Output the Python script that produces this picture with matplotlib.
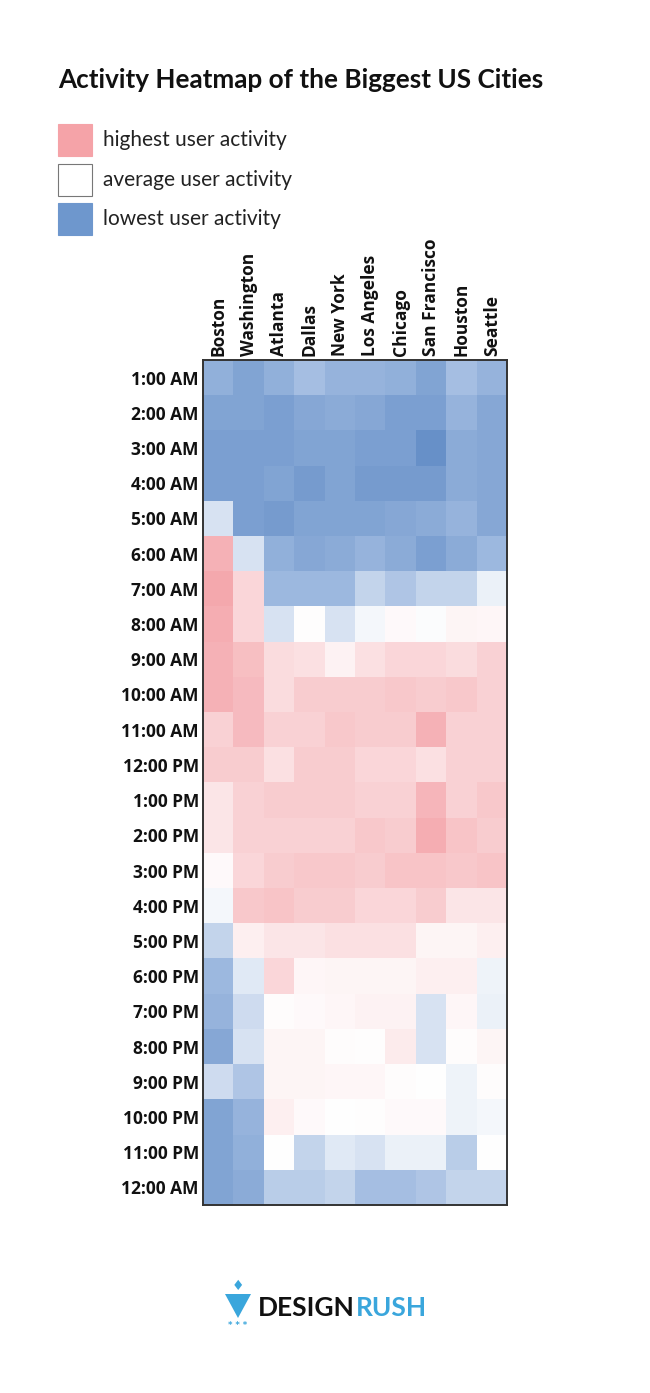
import numpy as np
import matplotlib.pyplot as plt
from matplotlib.colors import LinearSegmentedColormap
from matplotlib.patches import Rectangle, Polygon

# --- data (-1 = lowest, +1 = highest activity) ---
cities = ['Boston', 'Washington', 'Atlanta', 'Dallas', 'New York',
          'Los Angeles', 'Chicago', 'San Francisco', 'Houston', 'Seattle']
hours = ['1:00 AM', '2:00 AM', '3:00 AM', '4:00 AM', '5:00 AM', '6:00 AM',
         '7:00 AM', '8:00 AM', '9:00 AM', '10:00 AM', '11:00 AM', '12:00 PM',
         '1:00 PM', '2:00 PM', '3:00 PM', '4:00 PM', '5:00 PM', '6:00 PM',
         '7:00 PM', '8:00 PM', '9:00 PM', '10:00 PM', '11:00 PM', '12:00 AM']
activity = np.array([
    [-0.60, -0.75, -0.60, -0.45, -0.55, -0.55, -0.60, -0.75, -0.45, -0.55],
    [-0.75, -0.75, -0.80, -0.70, -0.65, -0.70, -0.80, -0.80, -0.55, -0.70],
    [-0.80, -0.80, -0.80, -0.75, -0.75, -0.80, -0.80, -1.00, -0.65, -0.70],
    [-0.80, -0.80, -0.75, -0.85, -0.75, -0.85, -0.85, -0.85, -0.65, -0.70],
    [-0.20, -0.80, -0.85, -0.75, -0.75, -0.75, -0.70, -0.65, -0.55, -0.70],
    [0.80, -0.20, -0.60, -0.70, -0.65, -0.55, -0.65, -0.80, -0.65, -0.50],
    [0.90, 0.40, -0.50, -0.50, -0.50, -0.30, -0.40, -0.30, -0.30, -0.10],
    [0.85, 0.40, -0.20, 0.02, -0.20, -0.05, 0.05, -0.02, 0.10, 0.08],
    [0.80, 0.65, 0.35, 0.30, 0.12, 0.30, 0.40, 0.40, 0.35, 0.45],
    [0.80, 0.70, 0.35, 0.50, 0.50, 0.50, 0.55, 0.50, 0.55, 0.45],
    [0.45, 0.70, 0.45, 0.45, 0.55, 0.50, 0.50, 0.80, 0.45, 0.45],
    [0.50, 0.50, 0.30, 0.50, 0.50, 0.40, 0.40, 0.30, 0.45, 0.45],
    [0.25, 0.45, 0.50, 0.50, 0.50, 0.45, 0.45, 0.75, 0.45, 0.55],
    [0.25, 0.45, 0.45, 0.45, 0.45, 0.55, 0.50, 0.85, 0.60, 0.50],
    [0.05, 0.40, 0.50, 0.55, 0.55, 0.50, 0.60, 0.60, 0.55, 0.60],
    [-0.05, 0.55, 0.60, 0.50, 0.50, 0.40, 0.40, 0.50, 0.25, 0.25],
    [-0.30, 0.15, 0.25, 0.25, 0.30, 0.30, 0.30, 0.10, 0.10, 0.15],
    [-0.50, -0.15, 0.40, 0.08, 0.10, 0.10, 0.10, 0.15, 0.15, -0.08],
    [-0.55, -0.25, 0.03, 0.05, 0.08, 0.12, 0.12, -0.20, 0.08, -0.10],
    [-0.70, -0.20, 0.10, 0.10, 0.03, 0.02, 0.20, -0.20, 0.03, 0.10],
    [-0.25, -0.40, 0.10, 0.10, 0.08, 0.08, 0.03, 0.00, -0.08, 0.03],
    [-0.75, -0.55, 0.15, 0.05, 0.00, 0.02, 0.05, 0.05, -0.08, -0.05],
    [-0.75, -0.60, 0.00, -0.30, -0.15, -0.20, -0.10, -0.10, -0.35, 0.00],
    [-0.75, -0.65, -0.35, -0.35, -0.30, -0.45, -0.45, -0.40, -0.30, -0.30],
])
legend_labels = ['highest user activity', 'average user activity', 'lowest user activity']

blue = '#6e97cd'
pink = '#f5a3a8'
cmap = LinearSegmentedColormap.from_list(
    'activity', [(0, '#6790c8'), (0.25, '#9cb8df'), (0.5, '#ffffff'),
                 (0.75, '#f9cdd0'), (1, '#f4a0a6')])

fig = plt.figure(figsize=(6.5, 13.93), dpi=100)
W, H = 650, 1393

def fx(x):
    return x / W

def fy(y):
    return 1 - y / H

# --- title ---
fig.text(fx(58), fy(80), 'Activity Heatmap of the Biggest US Cities',
         fontsize=18.8, fontweight='bold', family='Lato', va='center', ha='left',
         color='#111111')

# --- legend ---
legend_colors = [pink, '#ffffff', blue]
legend_y = [140, 180, 219]
for lab, col, y in zip(legend_labels, legend_colors, legend_y):
    fig.patches.append(Rectangle((fx(58), fy(y + 16)), 34 / W, 32 / H,
                                 transform=fig.transFigure, facecolor=col,
                                 edgecolor='#777777' if col == '#ffffff' else col,
                                 linewidth=0.8))
    fig.text(fx(103), fy(y), lab, fontsize=15, family='Lato', va='center',
             ha='left', color='#222222')

# --- heatmap ---
ax = fig.add_axes([fx(203), fy(1205), (507 - 203) / W, (1205 - 360) / H])
ax.imshow(activity, cmap=cmap, vmin=-1, vmax=1, aspect='auto',
          interpolation='nearest')
ax.set_xticks(range(len(cities)))
ax.set_xticklabels(cities, rotation=90, fontsize=12.5, fontweight='bold',
                   family='Open Sans')
ax.set_yticks(range(len(hours)))
ax.set_yticklabels(hours, fontsize=12.5, fontweight='bold', family='Open Sans')
ax.xaxis.tick_top()
ax.tick_params(length=0, pad=3, colors='#111111')
for s in ax.spines.values():
    s.set_color('#333333')
    s.set_linewidth(1.4)

# --- logo ---
logo_blue = '#3aa6dc'
fig.patches.append(Polygon([(fx(225), fy(1294)), (fx(251), fy(1294)),
                            (fx(238), fy(1318))], closed=True,
                           transform=fig.transFigure, facecolor=logo_blue,
                           edgecolor='none'))
fig.text(fx(238), fy(1286), '♦', fontsize=10, color=logo_blue,
         ha='center', va='center', family='DejaVu Sans')
fig.text(fx(238), fy(1326), '* * *', fontsize=6, color=logo_blue,
         ha='center', va='center', fontweight='bold')
t1 = fig.text(fx(258), fy(1308), 'DESIGN', fontsize=19, fontweight='bold',
              color='#111111', family='Lato', ha='left', va='center')
fig.canvas.draw()
bb = t1.get_window_extent()
fig.text(bb.x1 / W + 1 / W, fy(1308), 'RUSH', fontsize=19, fontweight='bold',
         color=logo_blue, family='Lato', ha='left', va='center')

fig.savefig('out.png', dpi=100)
